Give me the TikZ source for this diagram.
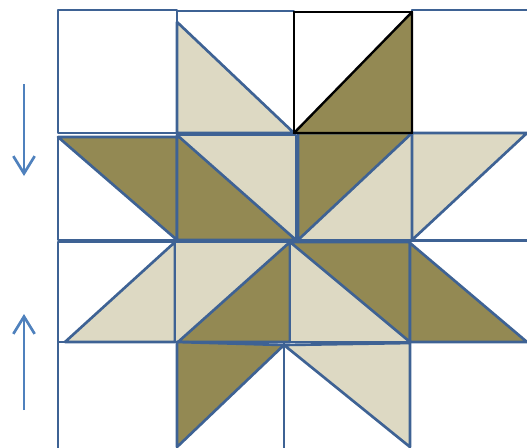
\documentclass[tikz,border=0pt]{standalone}
\usetikzlibrary{arrows.meta}
\definecolor{quiltdark}{HTML}{938953}
\definecolor{quiltlight}{HTML}{DDD9C3}
\definecolor{quiltline}{HTML}{3E6294}
\definecolor{arrowblue}{HTML}{4F81BD}

\begin{document}
\begin{tikzpicture}[
  x=0.75pt,y=-0.75pt,
  patch/.style={draw=quiltline,line width=2pt,line join=round},
  darktri/.style={patch,fill=quiltdark},
  lighttri/.style={patch,fill=quiltlight},
  marker/.style={draw=arrowblue,line width=2pt,-{Straight Barb[length=13pt,width=16pt,line width=2pt]}}
]
\useasboundingbox (0,0) rectangle (527,447);
\clip (0,0) rectangle (527,447);

% row 1
\draw[patch] (58,10) rectangle (177,133);
\draw[patch] (177,11) rectangle (294,133);
\draw[lighttri] (177,22) -- (294,133) -- (177,133) -- cycle;
\draw[patch] (412,10) rectangle (540,133);

% row 2
\draw[patch] (58,137) rectangle (177,240);
\draw[darktri] (58,137) -- (177,137) -- (177,240) -- cycle;
\draw[lighttri] (177,135) rectangle (296,240);
\draw[darktri] (177,135) -- (296,240) -- (177,240) -- cycle;
\draw[lighttri] (298,133) rectangle (412,240);
\draw[darktri] (298,133) -- (412,133) -- (298,240) -- cycle;
\draw[patch] (412,133) rectangle (540,240);
\draw[lighttri] (412,133) -- (527,133) -- (412,240) -- cycle;

% row 3
\draw[patch] (58,242) rectangle (175,342);
\draw[lighttri] (175,242) -- (175,342) -- (65,342) -- cycle;
\draw[lighttri] (175,242) rectangle (290,342);
\draw[darktri] (290,242) -- (290,342) -- (178,342) -- cycle;
\draw[lighttri] (290,242) rectangle (410,342);
\draw[darktri] (290,242) -- (410,242) -- (410,342) -- cycle;
\draw[patch] (410,241) rectangle (540,342);
\draw[darktri] (410,243) -- (527,342) -- (410,342) -- cycle;

% row 4
\draw[patch] (58,342) rectangle (177,460);
\draw[patch] (177,342) rectangle (284,460);
\draw[darktri] (177,342) -- (284,345) -- (177,447) -- cycle;
\draw[patch] (284,345) rectangle (410,460);
\draw[lighttri] (284,345) -- (410,343) -- (410,447) -- cycle;

% black block on top
\draw[black,line width=1.8pt] (294,12) rectangle (412,133);
\draw[black,line width=1.8pt,fill=quiltdark,line join=round] (294,133) -- (412,12) -- (412,133) -- cycle;

% direction markers
\coordinate (downtail) at (24,84);
\coordinate (downhead) at (24,176);
\coordinate (uptail) at (24,410);
\coordinate (uphead) at (24,314);
\draw[marker] (downtail) -- (downhead);
\draw[marker] (uptail) -- (uphead);
\end{tikzpicture}
\end{document}
